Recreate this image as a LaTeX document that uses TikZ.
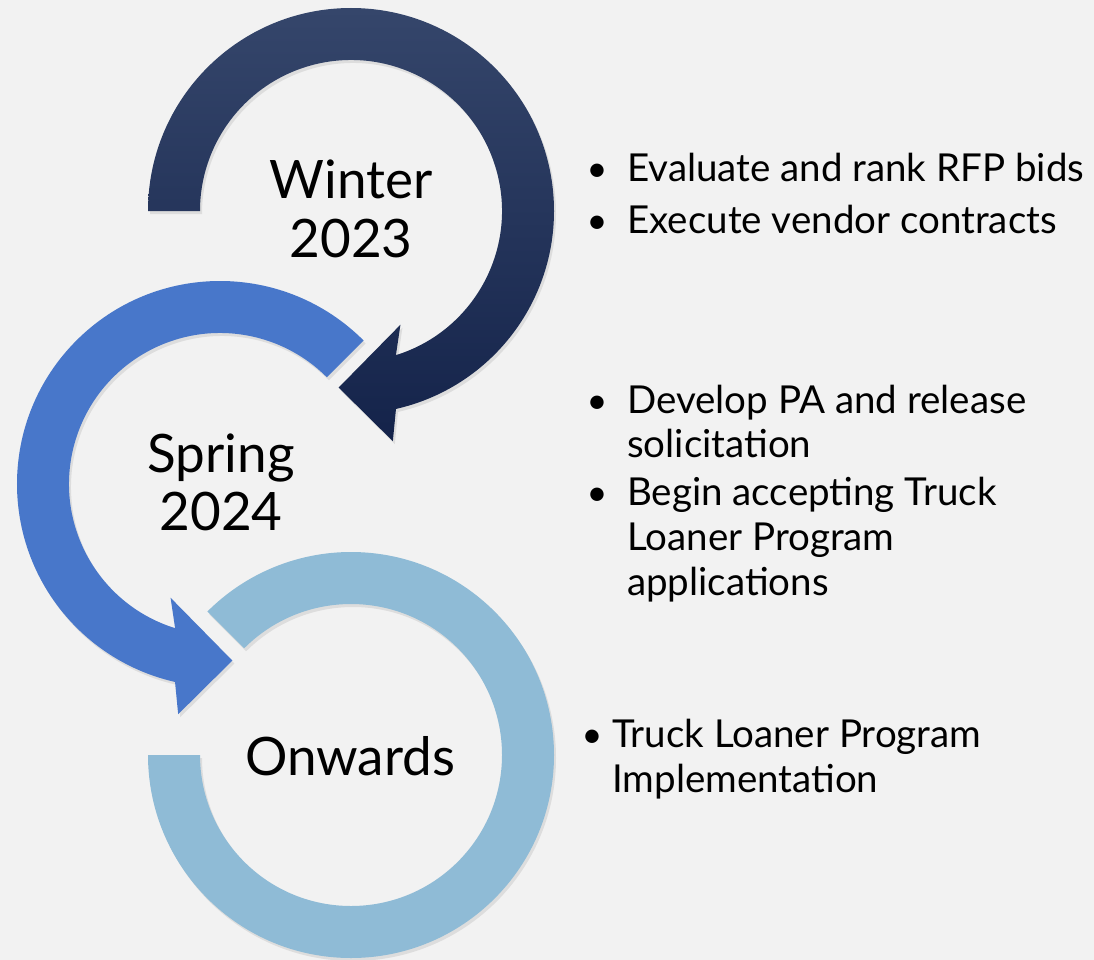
\documentclass[tikz,border=0pt]{standalone}
\usepackage{fontspec}
\setmainfont{Lato}
\usetikzlibrary{shadows}

\definecolor{navytop}{HTML}{35466B}
\definecolor{navybot}{HTML}{14234A}
\definecolor{springblue}{HTML}{4877CA}
\definecolor{onwardsblue}{HTML}{8FBBD6}
\definecolor{slidebg}{HTML}{F2F2F2}

\tikzset{
  season/.style={anchor=base, inner sep=0pt, font=\fontsize{53}{59}\selectfont},
  dot/.style={anchor=base, inner sep=0pt, font=\fontsize{36}{42}\selectfont},
  itemtext/.style={anchor=base west, inner sep=0pt, font=\fontsize{38.5}{42}\selectfont},
  ringshadow/.style={drop shadow={shadow xshift=2pt, shadow yshift=-3pt, opacity=0.18}}
}

\begin{document}
\begin{tikzpicture}[x=1pt,y=1pt]
      \fill[slidebg] (0,0) rectangle (1094,-960);
      \useasboundingbox (0,0) rectangle (1094,-960);

      % winter arrow
      \begin{scope}[shift={(351pt,-211pt)}]
        \shade[top color=navytop, bottom color=navybot, ringshadow]
          (180:203pt) arc[start angle=180, end angle=-77.2, radius=203pt]
          -- (-79.7:234pt) -- (-94:177pt) -- (-66.5:124pt) -- (-72.7:151pt)
          arc[start angle=-72.7, end angle=180, radius=151pt] -- cycle;
      \end{scope}

      % spring arrow
      \begin{scope}[shift={(220pt,-484pt)}]
        \fill[springblue, ringshadow]
          (45:203pt) arc[start angle=45, end angle=257.2, radius=203pt]
          -- (259.7:234pt) -- (274:177pt) -- (246.5:124pt) -- (252.7:151pt)
          arc[start angle=252.7, end angle=45, radius=151pt] -- cycle;
      \end{scope}

      % onwards ring
      \begin{scope}[shift={(351pt,-755pt)}]
        \fill[onwardsblue, ringshadow]
          (180:203pt) arc[start angle=180, end angle=495, radius=203pt]
          -- (135:151pt) arc[start angle=495, end angle=180, radius=151pt] -- cycle;
      \end{scope}

      \node[season] (winter) at (351,-198) {Winter};
      \node[season] (winteryear) at (351,-257) {2023};
      \node[season] (spring) at (221,-472) {Spring};
      \node[season] (springyear) at (221,-530) {2024};
      \node[season] (onwards) at (350,-775) {Onwards};

      \foreach \i/\y in {1/182, 2/233, 3/413, 4/505}{
        \node[dot] (dot\i) at (597,-\y) {•}; }
      \node[dot] (dot5) at (592,-747) {•};

      \node[itemtext] (rfp) at (627,-182) {Evaluate and rank RFP bids};
      \node[itemtext] (contracts) at (627,-233) {Execute vendor contracts};
      \node[itemtext] (pa) at (627,-413) {Develop PA and release};
      \node[itemtext] (pa2) at (627,-457) {solicitation};
      \node[itemtext] (loaner) at (627,-505) {Begin accepting Truck};
      \node[itemtext] (loaner2) at (627,-550) {Loaner Program};
      \node[itemtext] (loaner3) at (627,-595) {applications};
      \node[itemtext] (impl) at (612,-747) {Truck Loaner Program};
      \node[itemtext] (impl2) at (612,-792) {Implementation};
    \end{tikzpicture}
\end{document}
